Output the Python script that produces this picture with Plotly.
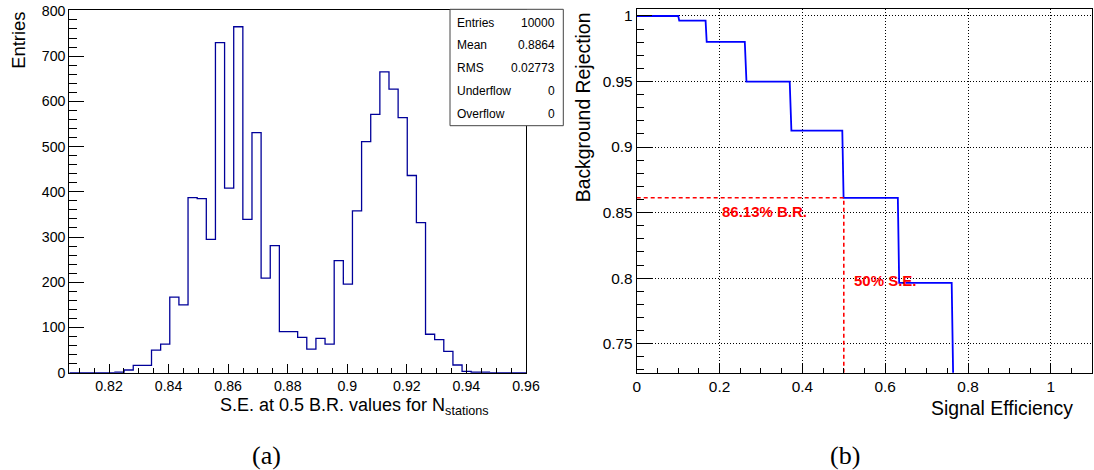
import plotly.graph_objects as go

W, H = 1094, 470

# ---------------- data ----------------
# Histogram (a): 50 bins between these limits
hist_xmin = 0.80667
hist_xmax = 0.96
hist_counts = [0, 0, 0, 0, 0, 1, 6, 16, 16, 50,
               63, 167, 150, 387, 385, 295, 730, 408, 765, 339,
               531, 209, 281, 91, 91, 78, 52, 76, 63, 248,
               196, 358, 511, 571, 665, 627, 564, 436, 332, 85,
               73, 47, 17, 3, 1, 1, 0, 0, 0, 0]
hist_xticks = [0.82, 0.84, 0.86, 0.88, 0.90, 0.92, 0.94, 0.96]
hist_xticklabels = ["0.82", "0.84", "0.86", "0.88", "0.9", "0.92", "0.94", "0.96"]
hist_yticks = [0, 100, 200, 300, 400, 500, 600, 700, 800]

stats_labels = ["Entries", "Mean", "RMS", "Underflow", "Overflow"]
stats_values = ["10000", "0.8864", "0.02773", "0", "0"]

# ROC curve (b): step vertices
roc_eff = [0.0, 0.1003, 0.1027, 0.1663, 0.1690, 0.2610, 0.2650, 0.3694, 0.3735,
           0.4964, 0.4995, 0.6305, 0.6337, 0.7605, 0.7653]
roc_rej = [1.0, 1.0, 0.9964, 0.9964, 0.9802, 0.9802, 0.9500, 0.9500, 0.9126,
           0.9126, 0.8613, 0.8613, 0.7964, 0.7964, 0.70]
roc_xticks = [0, 0.2, 0.4, 0.6, 0.8, 1.0]
roc_xticklabels = ["0", "0.2", "0.4", "0.6", "0.8", "1"]
roc_yticks = [0.75, 0.80, 0.85, 0.90, 0.95, 1.0]
roc_yticklabels = ["0.75", "0.8", "0.85", "0.9", "0.95", "1"]

work_se = 0.5
work_br = 0.8613
label_br = "86.13% B.R."
label_se = "50% S.E."

# ---------------- helpers ----------------
def px(x):
    return x / W

def py(y):
    return 1 - y / H

nb = len(hist_counts)
bw = (hist_xmax - hist_xmin) / nb
edges = [hist_xmin + i * bw for i in range(nb + 1)]
step_y = hist_counts + [hist_counts[-1]]

fig = go.Figure()

fig.add_trace(go.Scatter(
    x=edges, y=step_y, mode="lines", line_shape="hv",
    line=dict(color="#000099", width=1.3),
    xaxis="x", yaxis="y", showlegend=False, hoverinfo="skip"))

fig.add_trace(go.Scatter(
    x=roc_eff, y=roc_rej, mode="lines",
    line=dict(color="#0000ff", width=1.8),
    xaxis="x2", yaxis="y2", showlegend=False))

# working point dashed lines
fig.add_trace(go.Scatter(
    x=[0, work_se, work_se], y=[work_br, work_br, 0.70], mode="lines",
    line=dict(color="#ff0000", width=1.6, dash="4px,3px"),
    xaxis="x2", yaxis="y2", showlegend=False))

font_l = "Liberation Sans, Arial, Helvetica, sans-serif"
tick_common = dict(showline=True, linecolor="black", linewidth=1, mirror=True,
                   ticks="inside", tickcolor="black", tickwidth=1,
                   zeroline=False, automargin=False)
grid_common = dict(showgrid=True, gridcolor="black", griddash="1px,2px", gridwidth=1)

fig.update_layout(
    width=W, height=H,
    margin=dict(l=0, r=0, t=0, b=0),
    paper_bgcolor="white", plot_bgcolor="white",
    font=dict(family=font_l, color="black"),
    xaxis=dict(domain=[px(69.3), px(526)], range=[hist_xmin, hist_xmax],
               tickmode="array", tickvals=hist_xticks, ticktext=hist_xticklabels,
               ticklen=9, tickfont=dict(size=14.2), showgrid=False,
               minor=dict(tickmode="linear", tick0=0.82, dtick=0.005, ticklen=4.7,
                          ticks="inside", tickcolor="black", showgrid=False),
               anchor="y", **tick_common),
    yaxis=dict(domain=[py(372.7), py(10)], range=[0, 802],
               tickmode="array", tickvals=hist_yticks,
               ticklen=15, tickfont=dict(size=14.2), showgrid=False,
               minor=dict(tickmode="linear", tick0=0, dtick=20, ticklen=7.5,
                          ticks="inside", tickcolor="black", showgrid=False),
               anchor="x", **tick_common),
    xaxis2=dict(domain=[px(636.7), px(1092.3)], range=[0, 1.1],
                tickmode="array", tickvals=roc_xticks, ticktext=roc_xticklabels,
                ticklen=9.3, tickfont=dict(size=15.4),
                minor=dict(tickmode="linear", tick0=0, dtick=0.05, ticklen=4.5,
                           ticks="inside", tickcolor="black", showgrid=False),
                anchor="y2", **grid_common, **tick_common),
    yaxis2=dict(domain=[py(372.7), py(9.3)], range=[0.7279, 1.0051],
                tickmode="array", tickvals=roc_yticks, ticktext=roc_yticklabels,
                ticklen=15, tickfont=dict(size=15.4),
                minor=dict(tickmode="linear", tick0=0.75, dtick=0.01, ticklen=7.3,
                           ticks="inside", tickcolor="black", showgrid=False),
                anchor="x2", **grid_common, **tick_common),
)

ann = []
# axis titles
ann.append(dict(x=px(18.3), y=py(10), xref="paper", yref="paper", text="Entries",
                textangle=-90, xanchor="center", yanchor="top", showarrow=False,
                font=dict(size=18.4)))
ann.append(dict(x=px(491), y=py(406.7), xref="paper", yref="paper",
                text="S.E. at 0.5 B.R. values for N<sub>stations</sub>",
                xanchor="right", yanchor="middle", showarrow=False, font=dict(size=18)))
ann.append(dict(x=px(583.3), y=py(10), xref="paper", yref="paper", text="Background Rejection",
                textangle=-90, xanchor="center", yanchor="top", showarrow=False,
                font=dict(size=19.4)))
ann.append(dict(x=px(1075), y=py(408.3), xref="paper", yref="paper", text="Signal Efficiency",
                xanchor="right", yanchor="middle", showarrow=False, font=dict(size=19.4)))
# captions
ann.append(dict(x=px(266), y=py(455), xref="paper", yref="paper", text="(a)",
                xanchor="center", yanchor="middle", showarrow=False,
                font=dict(size=26, family="Liberation Serif, DejaVu Serif, serif")))
ann.append(dict(x=px(845), y=py(455), xref="paper", yref="paper", text="(b)",
                xanchor="center", yanchor="middle", showarrow=False,
                font=dict(size=26, family="Liberation Serif, DejaVu Serif, serif")))
# stats box text
row_y = [22.7, 45.4, 68.1, 90.8, 114.0]
for lab, val, yy in zip(stats_labels, stats_values, row_y):
    ann.append(dict(x=px(455), y=py(yy), xref="paper", yref="paper", text=lab,
                    xanchor="left", yanchor="middle", showarrow=False, font=dict(size=12)))
    ann.append(dict(x=px(557), y=py(yy), xref="paper", yref="paper", text=val,
                    xanchor="right", yanchor="middle", showarrow=False, font=dict(size=12)))
# working point labels
ann.append(dict(x=0.2, y=0.8512, xref="x2", yref="y2", text="<b>%s</b>" % label_br,
                xanchor="left", yanchor="middle", showarrow=False,
                font=dict(size=15, color="#ff0000")))
ann.append(dict(x=0.5205, y=0.7985, xref="x2", yref="y2", text="<b>%s</b>" % label_se,
                xanchor="left", yanchor="middle", showarrow=False,
                font=dict(size=15, color="#ff0000")))
fig.update_layout(annotations=ann)

fig.add_shape(type="rect", xref="paper", yref="paper",
              x0=px(450), x1=px(563.3), y0=py(125.7), y1=py(9.3),
              line=dict(color="#444444", width=1), fillcolor="white", layer="above")

fig.write_html("out.html",
               config={"displayModeBar": False},
               post_script="document.body.style.margin='0';document.body.style.overflow='hidden';")
